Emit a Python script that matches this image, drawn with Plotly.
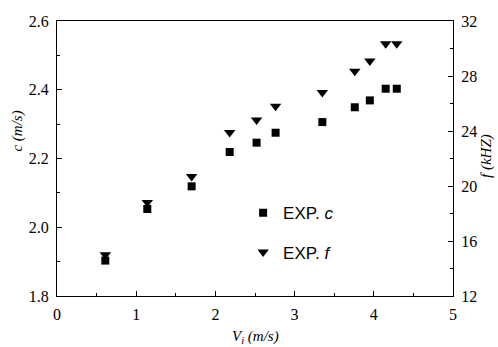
import plotly.graph_objects as go

vi = [0.61, 1.14, 1.70, 2.18, 2.52, 2.76, 3.35, 3.76, 3.95, 4.15, 4.29]
c_vals = [1.903, 2.053, 2.119, 2.219, 2.246, 2.275, 2.306, 2.349, 2.369, 2.403, 2.403]
f_vals = [15.0, 18.8, 20.7, 23.9, 24.8, 25.8, 26.8, 28.35, 29.1, 30.35, 30.35]

serif = "Liberation Serif, Times New Roman, serif"
sans = "Liberation Sans, Arial, sans-serif"

fig = go.Figure()
fig.add_trace(go.Scatter(x=vi, y=c_vals, mode="markers", name="EXP. <i>c</i>",
                         legendgroup="c",
                         marker=dict(symbol="square", size=8, color="black")))
fig.add_trace(go.Scatter(x=vi, y=f_vals, mode="markers", name="EXP. <i>f</i>",
                         legendgroup="f", yaxis="y2",
                         marker=dict(symbol="triangle-down", size=10, color="black")))

axis_common = dict(showgrid=False, zeroline=False, showline=True, linecolor="black",
                   linewidth=1, tickcolor="black", tickwidth=1, ticks="inside",
                   ticklen=5, ticklabelstandoff=4,
                   tickfont=dict(family=serif, size=16, color="black"))
minor_common = dict(ticks="inside", ticklen=3, tickcolor="black", tickwidth=1)

fig.update_layout(
    width=498, height=347,
    margin=dict(l=57, r=45, t=21, b=51),
    paper_bgcolor="white", plot_bgcolor="white",
    showlegend=True,
    legend=dict(x=0.47, y=0.23, xanchor="left", yanchor="middle",
                font=dict(family=sans, size=17, color="black"),
                bgcolor="rgba(0,0,0,0)", tracegroupgap=14, itemwidth=30),
    xaxis=dict(range=[0, 5], dtick=1, tick0=0, mirror=True,
               minor=dict(dtick=0.5, **minor_common),
               **axis_common),
    yaxis=dict(range=[1.8, 2.6], dtick=0.2, tick0=1.8, tickformat=".1f",
               minor=dict(dtick=0.1, **minor_common),
               **axis_common),
    yaxis2=dict(range=[12, 32], dtick=4, tick0=12,
                overlaying="y", side="right",
                minor=dict(dtick=2, **minor_common),
                **axis_common),
    annotations=[
        dict(text="<i>V</i><sub><i>i</i></sub><i> (m/s)</i>", xref="paper", yref="paper",
             x=0.5, y=-0.15, xanchor="center", yanchor="middle", showarrow=False,
             font=dict(family=serif, size=15, color="black")),
        dict(text="<i>c (m/s)</i>", xref="paper", yref="paper",
             x=-0.102, y=0.6, xanchor="center", yanchor="middle", showarrow=False,
             textangle=-90, font=dict(family=serif, size=15, color="black")),
        dict(text="<i>f (kHZ)</i>", xref="paper", yref="paper",
             x=1.084, y=0.51, xanchor="center", yanchor="middle", showarrow=False,
             textangle=-90, font=dict(family=serif, size=15, color="black")),
    ],
)

fig.write_html("out.html")
